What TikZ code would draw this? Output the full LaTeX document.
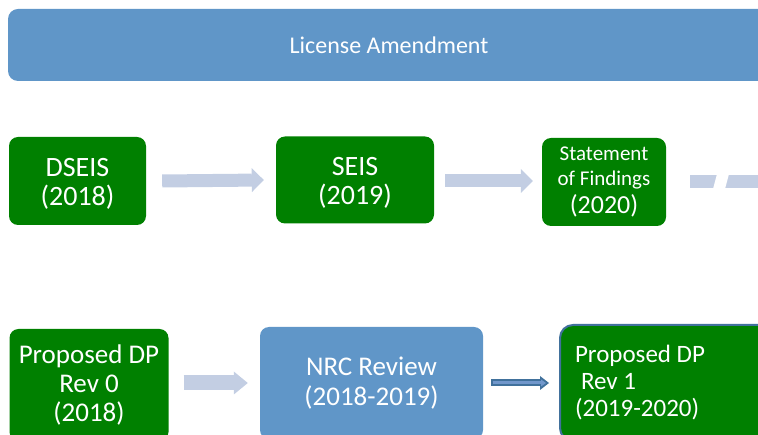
\documentclass[tikz,border=0pt]{standalone}
\usepackage{fontspec}
\setmainfont{Carlito}
\usetikzlibrary{calc,arrows.meta}
\definecolor{stagegreen}{HTML}{008000}
\definecolor{stageblue}{HTML}{6096C8}
\definecolor{flowgray}{HTML}{C3CEE3}
\definecolor{edgeblue}{HTML}{41719C}
\definecolor{innerblue}{HTML}{7197CB}
\tikzset{
  stagebox/.style={rounded corners=9pt, fill=stagegreen, text=white, align=center, inner sep=0pt,
    font=\fontsize{28}{29}\selectfont},
  reviewbox/.style={stagebox, fill=stageblue},
  fatarrow/.style={draw=flowgray, line width=13pt, -{Triangle[length=12pt,width=24pt,line width'=0pt]}},
  thinarrow/.style={draw=edgeblue, line width=7pt, -{Triangle[length=9pt,width=14pt,line width'=0pt]}},
}
\begin{document}
\begin{tikzpicture}[x=1pt,y=-1pt]
            \useasboundingbox (0,0) rectangle (758,435);
            % license amendment banner
            \node [reviewbox, rounded corners=10pt, minimum width=762pt, minimum height=72pt,
                   font=\fontsize{24}{28}\selectfont] (banner) at(389,45) {License Amendment};
            % top row
            \node [stagebox, text height=50pt, text depth=0pt, minimum width=137pt, minimum height=88pt] (dseis) at(77.5,181) {DSEIS\\(2018)};
            \node [stagebox, text height=50pt, text depth=0pt, minimum width=158pt, minimum height=87pt] (seis) at(355,180) {SEIS\\(2019)};
            \node [stagebox, minimum width=124pt, minimum height=88pt, font=\fontsize{21}{25}\selectfont] (findings) at(604,182)
                  {Statement\\of Findings\\[3pt]{\fontsize{26}{28}\selectfont (2020)}};
            \coordinate (offpage) at(800,181.5);
            \draw [fatarrow] ($(dseis.east)+(16,0)$)--($(seis.west)+(-12,0)$);
            \draw [fatarrow] ($(seis.east)+(11,1)$)--($(findings.west)+(-9,-1)$);
            \draw [fatarrow] ($(findings.east)+(24,-0.5)$)--(offpage);
            \fill [white] (717,174)--(729,174)--(725,189)--(713,189)--cycle;
            % bottom row
            \node [stagebox, minimum width=159pt, minimum height=112pt, font=\fontsize{27}{29}\selectfont] (rev0) at(89,385)
                  {Proposed DP\\Rev 0\\(2018)};
            \node [reviewbox, minimum width=223pt, minimum height=112pt, font=\fontsize{27}{30}\selectfont] (nrc) at(371.5,383)
                  {NRC Review\\(2018-2019)};
            \node [stagebox, draw=edgeblue, line width=2pt, rounded corners=13pt, minimum width=230pt, minimum height=116pt,
                   text width=200pt, align=flush left, font=\fontsize{25}{27}\selectfont] (rev1) at(675,383)
                  {Proposed DP\\\hspace*{6pt}Rev 1\\(2019-2020)};
            \draw [fatarrow, line width=15pt, -{Triangle[length=14pt,width=23pt,line width'=0pt]}]
                  ($(rev0.east)+(15,-2)$)--($(nrc.west)+(-12,0)$);
            \draw [thinarrow] ($(nrc.east)+(8,0)$)--($(rev1.west)+(-10,0)$);
            \draw [innerblue, line width=3pt, -{Triangle[length=5pt,width=7pt,line width'=0pt]}]
                  ($(nrc.east)+(9.5,0)$)--($(rev1.west)+(-13,0)$);
        \end{tikzpicture}
\end{document}
